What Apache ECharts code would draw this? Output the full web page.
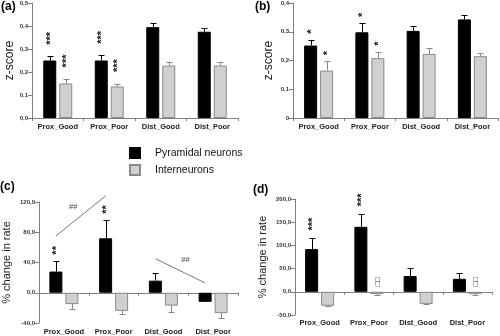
<!DOCTYPE html>
<html><head><meta charset="utf-8">
<script src="https://cdn.jsdelivr.net/npm/echarts@6/dist/echarts.min.js"></script>
<style>html,body{margin:0;padding:0;background:#fff}#c{width:500px;height:336px}</style>
</head><body><div id="c"></div>
<script>
const categories = ['Prox_Good','Prox_Poor','Dist_Good','Dist_Poor'];
const seriesNames = ['Pyramidal neurons','Interneurons'];

// (a) z-score
const aPyr = [0.25, 0.25, 0.395, 0.375];
const aPyrErr = [0.018, 0.023, 0.018, 0.018];
const aInt = [0.15, 0.137, 0.228, 0.228];
const aIntErr = [0.02, 0.013, 0.017, 0.014];
const aPyrSig = ['***','***','',''];
const aIntSig = ['***','***','',''];
const aTicks = ['0,0','0,1','0,2','0,3','0,4','0,5'];

// (b) z-score
const bPyr = [0.252, 0.298, 0.303, 0.343];
const bPyrErr = [0.02, 0.032, 0.017, 0.017];
const bInt = [0.165, 0.208, 0.223, 0.215];
const bIntErr = [0.032, 0.022, 0.022, 0.01];
const bPyrSig = ['*','*','',''];
const bIntSig = ['*','*','',''];
const bTicks = ['0','0,1','0,2','0,3','0,4'];

// (c) % change in rate
const cPyr = [28, 72, 16, -12];
const cPyrErr = [14, 24, 10, 0];
const cInt = [-15, -24, -17, -27];
const cIntErr = [7, 4, 9, 6];
const cPyrSig = ['**','**','',''];
const cIntSig = ['','','',''];
const cTicks = ['-40,0','0,0','40,0','80,0','120,0'];
// trend annotations: [fromCategory, fromValue, toCategory, toValue]
const cTrends = [[0, 75, 1, 128], [2, 45, 3, 13]];
const cTrendLabels = ['##', '##'];

// (d) % change in rate
const dPyr = [92, 140, 34, 28];
const dPyrErr = [24, 28, 18, 12];
const dInt = [-30, -5, -26, -5];
const dIntErr = [1, 2, 1, 2];
const dPyrSig = ['***','***','',''];
const dIntSig = ['','\u25A1\u25A1','','\u25A1\u25A1'];
const dTicks = ['-50,0','0,0','50,0','100,0','150,0','200,0'];

const FONT = "'Liberation Sans', Arial, sans-serif";
const AX = '#808080';
const BLACK = '#000000';
const GREY = '#d0d0d0';
const GREY_BORDER = '#8a8a8a';
const SHIFT = 8;

const panels = [
  {grid:{left:32, top:3, width:206, height:115}, min:0, max:0.5, interval:0.1, ticks:aTicks, name:'z-score', nameGap:16,
   pyr:aPyr, pyrErr:aPyrErr, int:aInt, intErr:aIntErr, pyrSig:aPyrSig, intSig:aIntSig, gap:11, labelMargin:5},
  {grid:{left:293, top:3, width:205, height:115}, min:0, max:0.4, interval:0.1, ticks:bTicks, name:'z-score', nameGap:18,
   pyr:bPyr, pyrErr:bPyrErr, int:bInt, intErr:bIntErr, pyrSig:bPyrSig, intSig:bIntSig, gap:6, labelMargin:5},
  {grid:{left:38, top:202, width:200, height:121}, min:-40, max:120, interval:40, ticks:cTicks, name:'% change in rate', nameGap:27,
   pyr:cPyr, pyrErr:cPyrErr, int:cInt, intErr:cIntErr, pyrSig:cPyrSig, intSig:cIntSig, gap:6, labelMargin:5},
  {grid:{left:295, top:199, width:197, height:116}, min:-50, max:200, interval:50, ticks:dTicks, name:'% change in rate', nameGap:27,
   pyr:dPyr, pyrErr:dPyrErr, int:dInt, intErr:dIntErr, pyrSig:dPyrSig, intSig:dIntSig, gap:7, labelMargin:4}
];

const catLabel = {fontSize:7.5, fontWeight:'bold', color:'#222', fontFamily:FONT, interval:0};

const grids = [], xAxes = [], yAxes = [], series = [];

function errRender(vals, errs, shift, color) {
  return function (params, api) {
    const i = params.dataIndex;
    const v = vals[i], e = errs[i];
    if (!e) return null;
    const base = api.coord([i, v]);
    const tip = api.coord([i, v + (v >= 0 ? e : -e)]);
    const x = Math.round(base[0] + shift) + 0.5;
    const yt = Math.round(tip[1]) + 0.5;
    return {type:'group', children:[
      {type:'line', shape:{x1:x, y1:base[1], x2:x, y2:yt}, style:{stroke:color, lineWidth:1}},
      {type:'line', shape:{x1:x-3, y1:yt, x2:x+3, y2:yt}, style:{stroke:color, lineWidth:1}}
    ]};
  };
}

function sigRender(vals, errs, sigs, shift, gap, fontSize, weight, fill) {
  return function (params, api) {
    const i = params.dataIndex;
    const txt = sigs[i];
    if (!txt) return null;
    const v = vals[i], e = errs[i];
    const anchor = v > 0 ? v + e : 0;
    const p = api.coord([i, anchor]);
    const len = txt.length * fontSize * 0.42;
    return {type:'text', x: p[0] + shift + 1, y: p[1] - gap - len / 2, rotation: Math.PI / 2,
      style:{text: txt, fontSize: fontSize, fontWeight: weight, fontFamily: FONT, fill: fill, align:'center', verticalAlign:'middle'}};
  };
}

panels.forEach((P, p) => {
  grids.push(P.grid);
  const hasNeg = P.min < 0;
  const xMain = xAxes.length;
  xAxes.push({
    type:'category', gridIndex:p, data:categories, position: hasNeg ? 'top' : 'bottom',
    axisLine:{onZero: hasNeg, lineStyle:{color:AX, width:1}},
    axisTick:{show:true, length:3, inside: hasNeg, lineStyle:{color:AX}},
    axisLabel: Object.assign({show: !hasNeg, margin: P.labelMargin}, catLabel),
    splitLine:{show:false}
  });
  if (hasNeg) {
    xAxes.push({
      type:'category', gridIndex:p, data:categories, position:'bottom',
      axisLine:{show:false, onZero:false}, axisTick:{show:false},
      axisLabel: Object.assign({show:true, margin: P.labelMargin}, catLabel),
      splitLine:{show:false}
    });
  }
  yAxes.push({
    type:'value', gridIndex:p, min:P.min, max:P.max, interval:P.interval,
    name:P.name, nameLocation:'middle', nameGap:P.nameGap,
    nameTextStyle:{fontSize: p < 2 ? 12 : 11, color:'#222', fontFamily:FONT},
    axisLine:{show:true, lineStyle:{color:AX, width:1}},
    axisTick:{show:true, length:4, lineStyle:{color:AX}},
    splitLine:{show:false},
    axisLabel:{fontSize:6, fontWeight:'bold', color:'#333', margin:4, fontFamily:FONT,
      formatter: (val) => P.ticks[Math.round((val - P.min) / P.interval)]}
  });
  series.push({
    type:'bar', name:seriesNames[0], xAxisIndex:xMain, yAxisIndex:p, data:P.pyr,
    barWidth:13, barGap:'23%', itemStyle:{color:BLACK, borderColor:BLACK, borderWidth:1}
  });
  series.push({
    type:'bar', name:seriesNames[1], xAxisIndex:xMain, yAxisIndex:p, data:P.int,
    barWidth:13, barGap:'23%', itemStyle:{color:GREY, borderColor:GREY_BORDER, borderWidth:1}
  });
  const idx = categories.map((c, i) => [i, 0]);
  series.push({type:'custom', xAxisIndex:xMain, yAxisIndex:p, data:idx, z:5, silent:true,
    renderItem: errRender(P.pyr, P.pyrErr, -SHIFT, '#000')});
  series.push({type:'custom', xAxisIndex:xMain, yAxisIndex:p, data:idx, z:5, silent:true,
    renderItem: errRender(P.int, P.intErr, SHIFT, '#888')});
  series.push({type:'custom', xAxisIndex:xMain, yAxisIndex:p, data:idx, z:6, silent:true,
    renderItem: sigRender(P.pyr, P.pyrErr, P.pyrSig, -SHIFT, P.gap, 11, 'bold', '#222')});
  series.push({type:'custom', xAxisIndex:xMain, yAxisIndex:p, data:idx, z:6, silent:true,
    renderItem: p === 3 ? sigRender(P.int, P.intErr, P.intSig, SHIFT, P.gap, 7.5, 'bold', '#000')
                        : sigRender(P.int, P.intErr, P.intSig, SHIFT, P.gap, 11, 'bold', '#222')});
  if (p === 2) {
    series.push({type:'custom', xAxisIndex:xMain, yAxisIndex:p, data:cTrends, z:6, silent:true,
      encode:{x:[0,2], y:[1,3]},
      renderItem: function (params, api) {
        const a = api.coord([api.value(0), api.value(1)]);
        const b = api.coord([api.value(2), api.value(3)]);
        const x1 = a[0] - SHIFT, x2 = b[0] - SHIFT;
        const dx = x2 - x1, dy = b[1] - a[1];
        const L = Math.sqrt(dx*dx + dy*dy);
        let nx = dy / L, ny = -dx / L;
        if (ny > 0) { nx = -nx; ny = -ny; }
        const mx = (x1 + x2) / 2 + nx * 12, my = (a[1] + b[1]) / 2 + ny * 12;
        return {type:'group', children:[
          {type:'line', shape:{x1:x1, y1:a[1], x2:x2, y2:b[1]}, style:{stroke:'#777', lineWidth:1}},
          {type:'text', x:mx, y:my, style:{text:cTrendLabels[params.dataIndex], fontSize:7.5, fontFamily:FONT,
            fill:'#444', align:'center', verticalAlign:'middle'}}
        ]};
      }});
  }
});

const titleStyle = {fontSize:12, fontWeight:'bold', color:'#000', fontFamily:FONT};
const option = {
  animation:false,
  backgroundColor:'#fff',
  textStyle:{fontFamily:FONT},
  title:[
    {text:'(a)', left:1, top:1, padding:0, textStyle:titleStyle},
    {text:'(b)', left:255, top:1, padding:0, textStyle:titleStyle},
    {text:'(c)', left:0, top:181, padding:0, textStyle:titleStyle},
    {text:'(d)', left:253, top:184, padding:0, textStyle:titleStyle}
  ],
  legend:{
    orient:'vertical', left:129, top:147, padding:0, itemWidth:10, itemHeight:10, itemGap:5,
    icon:'rect', data:seriesNames, selectedMode:false,
    textStyle:{fontSize:10.5, color:'#111', fontFamily:FONT, padding:[0,0,0,10]}
  },
  grid:grids, xAxis:xAxes, yAxis:yAxes, series:series
};
const chart = echarts.init(document.getElementById('c'), null, {renderer:'canvas'});
chart.setOption(option);
</script></body></html>
